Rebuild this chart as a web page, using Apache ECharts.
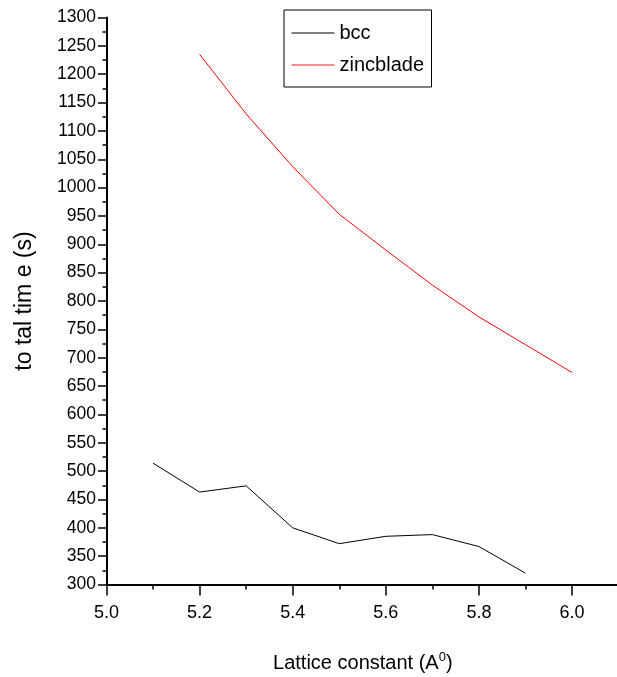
<!DOCTYPE html>
<html>
<head>
<meta charset="utf-8">
<script src="https://cdn.jsdelivr.net/npm/echarts@6/dist/echarts.min.js"></script>
<style>
html,body{margin:0;padding:0;background:#fff;}
#chart{width:617px;height:677px;}
</style>
</head>
<body>
<div id="chart"></div>
<script>
const seriesNames = ['bcc', 'zincblade'];
const latticeBcc = [5.1, 5.2, 5.3, 5.4, 5.5, 5.6, 5.7, 5.8, 5.9];
const bccTime = [514, 463, 474, 400, 372, 385, 388, 367, 320];
const latticeZinc = [5.2, 5.3, 5.4, 5.5, 5.6, 5.7, 5.8, 5.9, 6.0];
const zincTime = [1235, 1130, 1037, 953, 890, 828, 772, 723, 674];
const xTitle = 'Lattice constant (A{sup|0})';
const yTitle = 'to tal tim e (s)';

const FONT = '"Liberation Sans", Arial, sans-serif';

const chart = echarts.init(document.getElementById('chart'), null, {renderer: 'canvas'});
chart.setOption({
  animation: false,
  backgroundColor: '#fff',
  grid: {left: 106.5, top: 17.5, width: 558.6, height: 567, containLabel: false, outerBoundsMode: 'none'},
  legend: {
    orient: 'vertical',
    left: 284, top: 10,
    padding: [13, 7.5, 12, 7.5],
    itemGap: 12,
    itemWidth: 43, itemHeight: 1.2,
    icon: 'rect',
    borderColor: '#000', borderWidth: 1,
    backgroundColor: '#fff',
    textStyle: {fontFamily: FONT, fontSize: 20, color: '#000'},
    data: seriesNames
  },
  xAxis: {
    type: 'value', min: 5.0, max: 6.2, interval: 0.2,
    name: xTitle, nameLocation: 'middle', nameGap: 66,
    nameTextStyle: {
      fontFamily: FONT, fontSize: 20, color: '#000', lineHeight: 26,
      padding: [0, 46, 0, 0],
      rich: {sup: {fontFamily: FONT, fontSize: 13, color: '#000', verticalAlign: 'top', lineHeight: 13}}
    },
    axisLine: {show: true, onZero: false, lineStyle: {color: '#000', width: 2}},
    axisTick: {show: true, inside: false, length: 11, lineStyle: {color: '#000', width: 1.5}},
    minorTick: {show: true, splitNumber: 2, length: 5, lineStyle: {color: '#000', width: 1.5}},
    splitLine: {show: false},
    axisLabel: {fontFamily: FONT, fontSize: 18, color: '#000', margin: 20,
      formatter: v => v.toFixed(1)}
  },
  yAxis: {
    type: 'value', min: 300, max: 1300, interval: 50,
    name: yTitle, nameLocation: 'middle', nameGap: 70, nameRotate: 90,
    nameTextStyle: {fontFamily: FONT, fontSize: 23, color: '#000'},
    axisLine: {show: true, onZero: false, lineStyle: {color: '#000', width: 2}},
    axisTick: {show: true, inside: false, length: 8.5, lineStyle: {color: '#000', width: 1.5}},
    minorTick: {show: true, splitNumber: 2, length: 4, lineStyle: {color: '#000', width: 1.5}},
    splitLine: {show: false},
    axisLabel: {fontFamily: FONT, fontSize: 17.5, color: '#000', margin: 10.5,
      formatter: v => String(v)}
  },
  series: [
    {
      name: seriesNames[0], type: 'line', symbol: 'none', showSymbol: false,
      lineStyle: {color: '#000', width: 1}, itemStyle: {color: '#000'},
      data: latticeBcc.map((x, i) => [x, bccTime[i]])
    },
    {
      name: seriesNames[1], type: 'line', symbol: 'none', showSymbol: false,
      lineStyle: {color: '#ff0000', width: 1}, itemStyle: {color: '#ff2020'},
      data: latticeZinc.map((x, i) => [x, zincTime[i]])
    }
  ]
});
</script>
</body>
</html>
